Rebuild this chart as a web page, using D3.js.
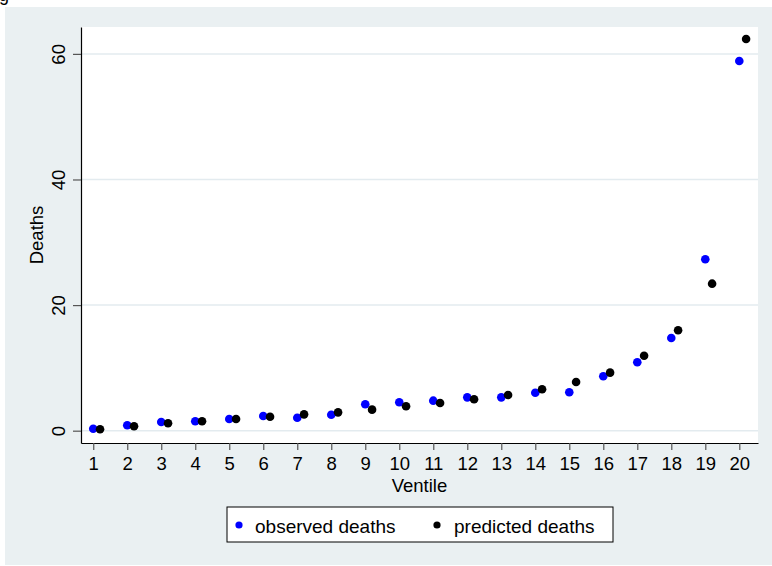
<!DOCTYPE html>
<html>
<head>
<meta charset="utf-8">
<script src="https://cdn.jsdelivr.net/npm/d3@7"></script>
<style>
  html, body { margin: 0; padding: 0; background: #ffffff; }
  svg { display: block; font-family: "Liberation Sans", Arial, Helvetica, sans-serif; }
</style>
</head>
<body>
<svg id="chart" width="772" height="566"></svg>
<script>
const ventiles = [1,2,3,4,5,6,7,8,9,10,11,12,13,14,15,16,17,18,19,20];
const observedDeaths = [0.3,0.86,1.39,1.5,1.86,2.34,2.07,2.55,4.2,4.52,4.78,5.31,5.31,6.05,6.11,8.66,10.89,14.76,27.29,58.87];
const predictedDeaths = [0.22,0.7,1.18,1.5,1.86,2.23,2.6,2.92,3.35,3.88,4.41,5.0,5.68,6.59,7.75,9.24,11.94,15.99,23.41,62.37];
const yTicks = [0,20,40,60];
const seriesNames = ["observed deaths","predicted deaths"];
const seriesColors = ["#0000ff","#000000"];
const predictedOffset = 0.2;

const svg = d3.select("#chart");

// cropped title remnant at top
svg.append("text").attr("x", -1).attr("y", 1).attr("font-size", 18).attr("fill", "#000").text("g");

// graph region
svg.append("rect").attr("x", 5).attr("y", 7).attr("width", 767).attr("height", 558).attr("fill", "#eaf0f2");

const pLeft = 81, pRight = 758, pTop = 27, pBottom = 443;
const x = d3.scaleLinear().domain([0.64, 20.55]).range([pLeft, pRight]);
const y = d3.scaleLinear().domain([-1.96, 64.28]).range([pBottom, pTop]);

// plot region
svg.append("rect").attr("x", pLeft).attr("y", pTop).attr("width", pRight - pLeft).attr("height", pBottom - pTop).attr("fill", "#ffffff");

// gridlines
svg.append("g").selectAll("line").data(yTicks).join("line")
  .attr("x1", pLeft).attr("x2", pRight)
  .attr("y1", d => y(d)).attr("y2", d => y(d))
  .attr("stroke", "#e3ebef").attr("stroke-width", 1.5);

// y axis
const yAxis = svg.append("g").attr("transform", `translate(${pLeft},0)`)
  .call(d3.axisLeft(y).tickValues(yTicks).tickSize(8).tickSizeOuter(0).tickFormat(d3.format("d")));
yAxis.select(".domain").attr("stroke", "#000").attr("stroke-width", 1.2);
yAxis.selectAll(".tick line").attr("stroke", "#555").attr("stroke-width", 1.2);
yAxis.selectAll(".tick text")
  .attr("transform", "rotate(-90)")
  .attr("x", 0).attr("y", -16).attr("dy", 0)
  .attr("text-anchor", "middle")
  .attr("font-size", 18.5).attr("fill", "#000")
  .attr("font-family", "Liberation Sans, Arial, sans-serif");

// x axis
const xAxis = svg.append("g").attr("transform", `translate(0,${pBottom})`)
  .call(d3.axisBottom(x).tickValues(ventiles).tickSize(7).tickSizeOuter(0).tickFormat(d3.format("d")));
xAxis.select(".domain").attr("stroke", "#000").attr("stroke-width", 1.2);
xAxis.selectAll(".tick line").attr("stroke", "#555").attr("stroke-width", 1.2);
xAxis.selectAll(".tick text")
  .attr("y", 27).attr("dy", 0)
  .attr("font-size", 18.5).attr("fill", "#000")
  .attr("font-family", "Liberation Sans, Arial, sans-serif");

// axis titles
svg.append("text").attr("x", (pLeft + pRight) / 2).attr("y", 491.5)
  .attr("text-anchor", "middle").attr("font-size", 18.5).attr("fill", "#000").text("Ventile");
svg.append("text").attr("transform", `translate(43,${(pTop + pBottom) / 2}) rotate(-90)`)
  .attr("text-anchor", "middle").attr("font-size", 18.5).attr("fill", "#000").text("Deaths");

// points
svg.append("g").selectAll("circle").data(ventiles).join("circle")
  .attr("cx", d => x(d)).attr("cy", (d, i) => y(observedDeaths[i])).attr("r", 4.3)
  .attr("fill", seriesColors[0]);
svg.append("g").selectAll("circle").data(ventiles).join("circle")
  .attr("cx", d => x(d + predictedOffset)).attr("cy", (d, i) => y(predictedDeaths[i])).attr("r", 4.3)
  .attr("fill", seriesColors[1]);

// legend
const lg = svg.append("g");
lg.append("rect").attr("x", 227).attr("y", 507).attr("width", 386).attr("height", 35)
  .attr("fill", "#fff").attr("stroke", "#000").attr("stroke-width", 1);
const legendItems = [{dx: 239, tx: 255}, {dx: 437, tx: 454}];
seriesNames.forEach((name, i) => {
  lg.append("circle").attr("cx", legendItems[i].dx).attr("cy", 525).attr("r", 3.6).attr("fill", seriesColors[i]);
  lg.append("text").attr("x", legendItems[i].tx).attr("y", 532.5).attr("font-size", 19).attr("fill", "#000").text(name);
});
</script>
</body>
</html>
